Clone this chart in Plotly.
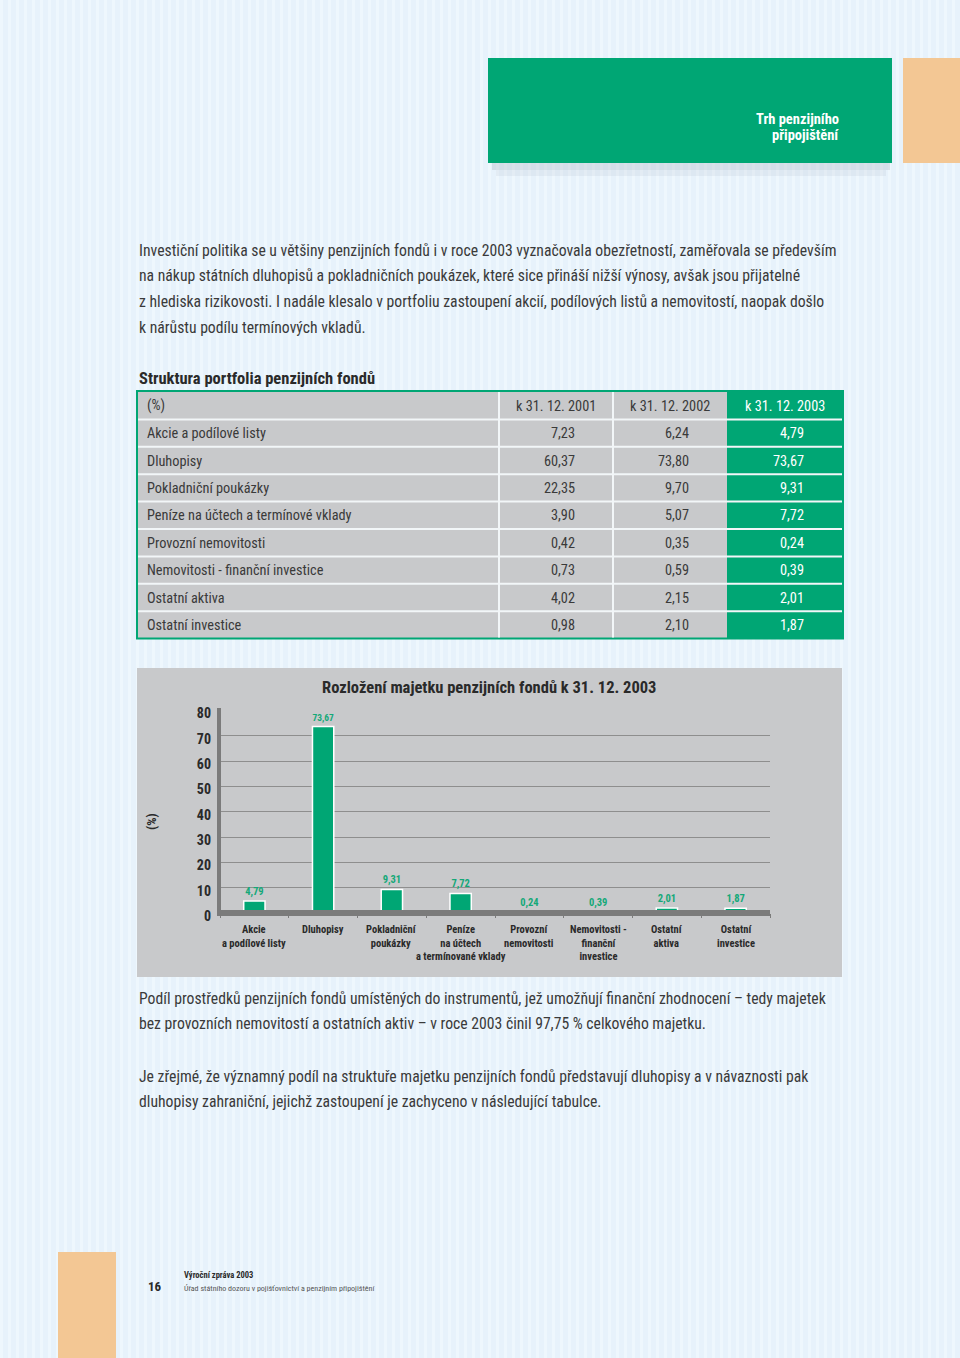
import plotly.graph_objects as go

W, H = 960, 1358

# ---------------- data ----------------
table_rows = ["Akcie a podílové listy", "Dluhopisy", "Pokladniční poukázky",
              "Peníze na účtech a termínové vklady", "Provozní nemovitosti",
              "Nemovitosti - finanční investice", "Ostatní aktiva", "Ostatní investice"]
table_headers = ["(%)", "k 31. 12. 2001", "k 31. 12. 2002", "k 31. 12. 2003"]
v2001 = [7.23, 60.37, 22.35, 3.90, 0.42, 0.73, 4.02, 0.98]
v2002 = [6.24, 73.80, 9.70, 5.07, 0.35, 0.59, 2.15, 2.10]
v2003 = [4.79, 73.67, 9.31, 7.72, 0.24, 0.39, 2.01, 1.87]

chart_labels = ["Akcie<br>a podílové listy", "Dluhopisy", "Pokladniční<br>poukázky",
                "Peníze<br>na účtech<br>a termínované vklady", "Provozní<br>nemovitosti",
                "Nemovitosti -<br>finanční<br>investice", "Ostatní<br>aktiva", "Ostatní<br>investice"]
y_ticks = [0, 10, 20, 30, 40, 50, 60, 70, 80]

para1 = ["Investiční politika se u většiny penzijních fondů i v roce 2003 vyznačovala obezřetností, zaměřovala se především",
         "na nákup státních dluhopisů a pokladničních poukázek, které sice přináší nižší výnosy, avšak jsou přijatelné",
         "z hlediska rizikovosti. I nadále klesalo v portfoliu zastoupení akcií, podílových listů a nemovitostí, naopak došlo",
         "k nárůstu podílu termínových vkladů."]
para2 = ["Podíl prostředků penzijních fondů umístěných do instrumentů, jež umožňují finanční zhodnocení – tedy majetek",
         "bez provozních nemovitostí a ostatních aktiv – v roce 2003 činil 97,75 % celkového majetku."]
para3 = ["Je zřejmé, že významný podíl na struktuře majetku penzijních fondů představují dluhopisy a v návaznosti pak",
         "dluhopisy zahraniční, jejichž zastoupení je zachyceno v následující tabulce."]

# ---------------- style ----------------
GREEN = "#00a674"
ORANGE = "#f3c794"
GREY = "#c8c9cb"
BG = "#e7f2fb"
TXT = "#3a3a3a"
FONT = "Liberation Sans Narrow, Roboto Condensed, DejaVu Sans Condensed, Roboto, sans-serif"


def fmt(v):
    return f"{v:.2f}".replace(".", ",")


def px(x):
    return x / W


def py(y):
    return 1 - y / H


shapes = []
ann = []


def rect(x0, y0, x1, y1, color, line=None, lw=0, layer="below"):
    d = dict(type="rect", xref="paper", yref="paper", x0=px(x0), x1=px(x1),
             y0=py(y1), y1=py(y0), fillcolor=color, layer=layer,
             line=dict(width=lw, color=line or color))
    shapes.append(d)


def hline(x0, x1, y, color, w=1, layer="below"):
    shapes.append(dict(type="line", xref="paper", yref="paper", x0=px(x0), x1=px(x1),
                       y0=py(y), y1=py(y), layer=layer, line=dict(color=color, width=w)))


def vline(x, y0, y1, color, w=1, layer="below"):
    shapes.append(dict(type="line", xref="paper", yref="paper", x0=px(x), x1=px(x),
                       y0=py(y0), y1=py(y1), layer=layer, line=dict(color=color, width=w)))


def text(x, y, s, size=14, color=TXT, bold=False, anchor="left", family=FONT, angle=0):
    ann.append(dict(xref="paper", yref="paper", x=px(x), y=py(y), text=f"<b>{s}</b>" if bold else s,
                    showarrow=False, xanchor=anchor, yanchor="middle", textangle=angle,
                    font=dict(size=size, color=color, family=family)))


# background stripes
for i in range(0, W, 8):
    rect(i, 0, i + 3, H, "#eef7fd")

# header
rect(492, 162, 890, 170, "rgba(140,150,170,0.22)")
rect(496, 170, 886, 176, "rgba(140,150,170,0.10)")
rect(488, 58, 892, 163, GREEN)
rect(903, 58, 960, 163, ORANGE)
text(841, 119, "Trh penzijního", 14.5, "white", True, "right")
text(841, 136, "připojištění", 14.5, "white", True, "right")

# paragraph 1
for i, s in enumerate(para1):
    text(137, 250 + i * 25.7, s, 15.7)

# table
text(137, 378, "Struktura portfolia penzijních fondů", 16.5, "#2a2a2a", True)
T0, RH = 392, 27.4
cols = [138, 499, 613, 727, 842]
nrows = len(table_rows) + 1
rect(137, 391, 843, T0 + nrows * RH, GREEN, GREEN, 2)
rect(138, T0, 727, T0 + nrows * RH - 1, GREY)
for k in range(1, nrows):
    hline(138, 842, T0 + k * RH, "#f2f6f8", 2)
for c in cols[1:3]:
    vline(c, T0, T0 + nrows * RH - 1, "#f2f6f8", 2)
yc = T0 + RH / 2
text(145, yc, table_headers[0], 14.3)
for j in range(1, 4):
    text((cols[j] + cols[j + 1]) / 2, yc, table_headers[j], 14.3,
         "white" if j == 3 else TXT, anchor="center")
for i, name in enumerate(table_rows):
    yc = T0 + (i + 1.5) * RH
    text(145, yc, name, 14.3)
    for j, arr in enumerate([v2001, v2002, v2003], start=1):
        text(cols[j + 1] - 36, yc, fmt(arr[i]), 14.3, "white" if j == 3 else TXT, anchor="right")

# chart panel
rect(137, 668, 842, 977, GREY)
text(489, 687, "Rozložení majetku penzijních fondů k 31. 12. 2003", 16.5, "#2a2a2a", True, "center")
text(151, 822, "(%)", 13, "#2a2a2a", True, "center", angle=-90)
rect(217, 708, 221, 916, "#7b7b7b", layer="above")
rect(217, 910, 770, 916, "#7b7b7b", layer="above")

# paragraphs below
for i, s in enumerate(para2):
    text(137, 998 + i * 25.7, s, 15.7)
for i, s in enumerate(para3):
    text(137, 1076 + i * 25.7, s, 15.7)

# footer
rect(58, 1252, 116, 1358, ORANGE)
text(146, 1286, "16", 13, "#2a2a2a", True)
text(182, 1275, "Výroční zpráva 2003", 8.5, "#2a2a2a", True)
text(182, 1288, "Úřad státního dozoru v pojišťovnictví a penzijním připojištění", 8, "#555")

# category labels under the bars (positioned by the category axis)
for lab in chart_labels:
    ann.append(dict(xref="x", yref="paper", x=lab, y=py(921), text=f"<b>{lab}</b>",
                    showarrow=False, xanchor="center", yanchor="top", align="center",
                    font=dict(size=10.5, color="#2a2a2a", family=FONT)))

fig = go.Figure()
fig.add_trace(go.Bar(
    x=chart_labels, y=v2003, width=0.31,
    marker=dict(color=GREEN, line=dict(color="white", width=1.5)),
    text=[fmt(v) for v in v2003], textposition="outside", cliponaxis=False,
    textfont=dict(color="#14a878", size=10.5, family=FONT),
    texttemplate="<b>%{text}</b>",
))

fig.update_layout(
    width=W, height=H, margin=dict(l=0, r=0, t=0, b=0, pad=0, autoexpand=False),
    paper_bgcolor=BG, plot_bgcolor="rgba(0,0,0,0)", showlegend=False,
    shapes=shapes, annotations=ann, font=dict(family=FONT, color=TXT),
    xaxis=dict(domain=[px(220), px(770)], type="category", showgrid=False, zeroline=False,
               showline=False, ticks="outside", tickson="boundaries", ticklen=4,
               tickcolor="#7b7b7b", showticklabels=False, anchor="y", fixedrange=True,
               automargin=False),
    yaxis=dict(domain=[py(913), py(710.5)], range=[0, 80], tickvals=y_ticks,
               ticktext=[f"<b>{v}</b>" for v in y_ticks], showgrid=True, gridcolor="#8e8e8e",
               gridwidth=1, zeroline=False, showline=False, ticks="",
               tickfont=dict(size=14, color="#2a2a2a", family=FONT), ticklabelstandoff=8,
               ticklabelshift=3, anchor="x", fixedrange=True, automargin=False),
    bargap=0.69,
)

fig.write_html("out.html", config={"displayModeBar": False},
               post_script=("document.body.style.margin='0';document.body.style.padding='0';"
                            "document.body.style.background='%s';" % BG))
